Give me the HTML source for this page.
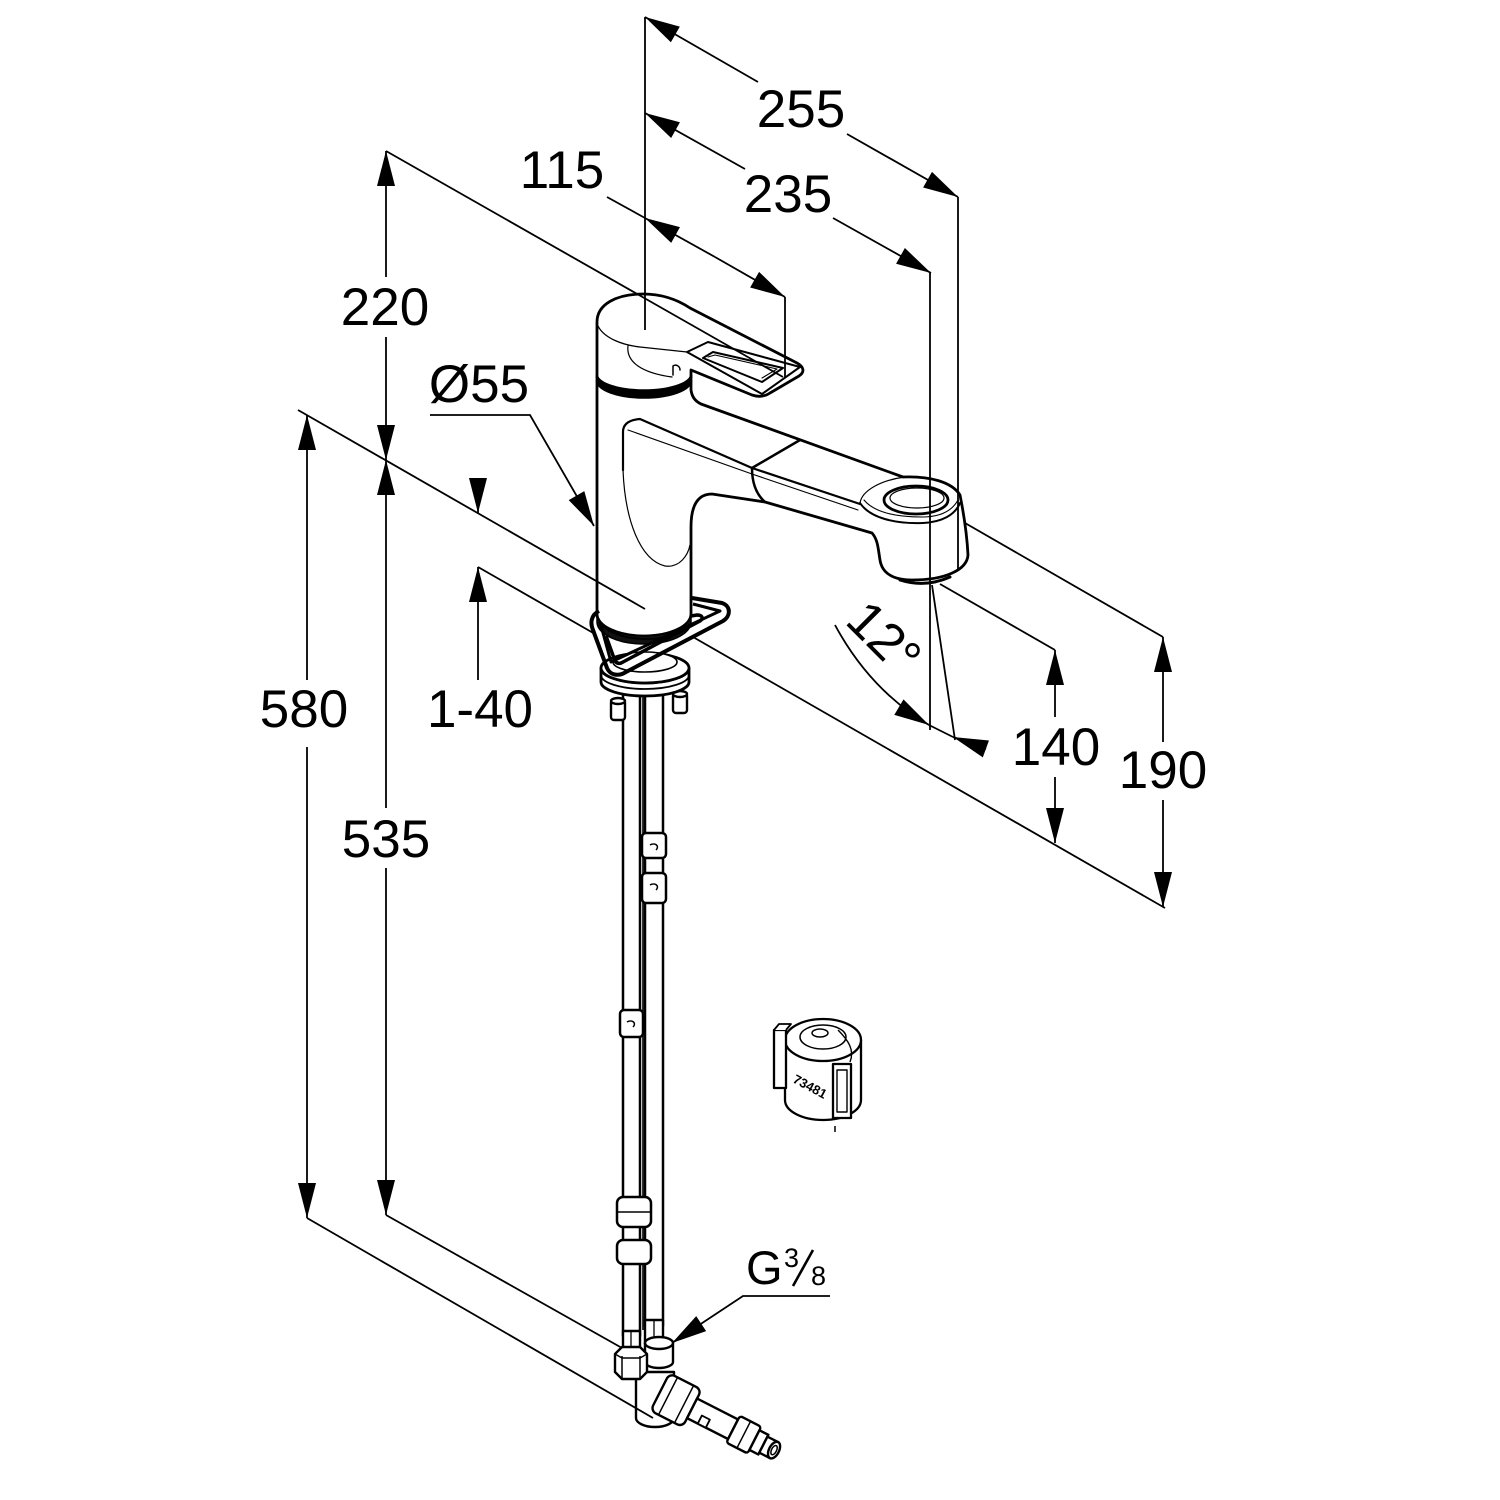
<!DOCTYPE html>
<html><head><meta charset="utf-8">
<style>
html,body{margin:0;padding:0;background:#fff;}
svg{display:block;}
text{font-family:"Liberation Sans",Arial,sans-serif;fill:#000;}
</style></head><body>
<svg width="1500" height="1500" viewBox="0 0 1500 1500" xmlns="http://www.w3.org/2000/svg">
<defs>
<marker id="a" markerUnits="userSpaceOnUse" markerWidth="40" markerHeight="22" viewBox="-37 -11 40 22" refX="0" refY="0" orient="auto" overflow="visible">
<path d="M0,0 L-35,-9 L-35,9 Z" fill="#000"/>
</marker>
</defs>
<rect width="1500" height="1500" fill="#fff"/>

<!-- ================= HOSES ================= -->
<g stroke="#000" stroke-width="2.5" fill="#fff">
<rect x="623" y="685" width="17" height="650"/>
<rect x="645" y="685" width="18" height="640"/>
<line x1="643" y1="690" x2="643" y2="1330" stroke-width="1.6"/>
<!-- clips right hose -->
<rect x="642" y="833" width="24" height="25" rx="4"/>
<rect x="642" y="873" width="24" height="30" rx="4"/>
<path d="M650,845 C655,842 660,846 656,850" fill="none" stroke-width="1.5"/>
<path d="M650,885 C655,882 660,886 656,890" fill="none" stroke-width="1.5"/>
<!-- clip left hose -->
<rect x="620" y="1010" width="23" height="27" rx="4"/>
<path d="M627,1022 C632,1019 637,1023 633,1027" fill="none" stroke-width="1.5"/>
<!-- lower fittings -->
<rect x="617" y="1197" width="34" height="30" rx="6"/>
<rect x="617" y="1240" width="34" height="24" rx="6"/>
<line x1="617" y1="1212" x2="651" y2="1212" stroke-width="1.5"/>
</g>

<!-- ================= BOTTOM CONNECTION ================= -->
<g stroke="#000" stroke-width="2.4" fill="#fff" stroke-linejoin="round">
<!-- ferrules -->
<rect x="623" y="1331" width="17" height="20"/>
<rect x="645" y="1320" width="18" height="24"/>
<line x1="631" y1="1331" x2="631" y2="1351" stroke-width="1.3"/>
<line x1="654" y1="1320" x2="654" y2="1344" stroke-width="1.3"/>
<!-- elbow -->
<path d="M636,1372 L636,1418 A19,9 0 0 0 674,1418 L674,1372 Z"/>
<!-- right nut -->
<path d="M645,1343 A14,6 0 0 1 673,1343 L673,1362 A14,6 0 0 1 645,1362 Z"/>
<path d="M645,1343 A14,6 0 0 0 673,1343" fill="none"/>
<!-- left nut (hex) -->
<path d="M615,1354 L622,1347 L640,1347 L647,1354 L647,1372 L640,1379 L622,1379 L615,1372 Z"/>
<line x1="622" y1="1356" x2="622" y2="1379" stroke-width="1.5"/>
<line x1="640" y1="1356" x2="640" y2="1379" stroke-width="1.5"/>
<path d="M615,1354 L622,1358 L640,1358 L647,1354" fill="none" stroke-width="1.5"/>
<!-- horizontal connection pipe -->
<g transform="translate(660,1392) rotate(27)">
<rect x="0" y="-21" width="36" height="42" rx="6"/>
<line x1="9" y1="-21" x2="9" y2="21" stroke-width="1.5"/>
<line x1="27" y1="-21" x2="27" y2="21" stroke-width="1.5"/>
<rect x="36" y="-11" width="46" height="22"/>
<rect x="48" y="2" width="9" height="9" stroke-width="1.8"/>
<rect x="82" y="-15" width="24" height="30" rx="3"/>
<line x1="94" y1="-15" x2="94" y2="15" stroke-width="1.5"/>
<rect x="106" y="-11" width="10" height="22"/>
<rect x="116" y="-9" width="12" height="18"/>
<ellipse cx="128" cy="0" rx="5" ry="9"/>
<ellipse cx="128" cy="0" rx="2.5" ry="5" stroke-width="1.5"/>
</g>
</g>

<!-- ================= BASE ================= -->
<g stroke="#000" stroke-width="2.4" fill="#fff">
<!-- bolts -->
<rect x="611" y="700" width="14" height="20" rx="3"/>
<ellipse cx="618" cy="701" rx="7" ry="3"/>
<rect x="673" y="693" width="14" height="20" rx="3"/>
<ellipse cx="680" cy="694" rx="7" ry="3"/>
<!-- flange -->
<path d="M601,668 A44,15 0 0 0 689,668 L689,682 A44,14 0 0 1 601,682 Z" stroke-width="2.8"/>
<ellipse cx="645" cy="668" rx="44" ry="15" stroke-width="2.8"/>
<path d="M601,675 A44,14 0 0 0 689,675" fill="none" stroke-width="1.8"/>
<ellipse cx="645" cy="662" rx="32" ry="10" stroke-width="1.6"/>
</g>

<!-- ================= BODY + SPOUT ================= -->
<g stroke="#000" stroke-linejoin="round" stroke-linecap="round">
<path d="M597,614 L597,376 L691,376 L691,390 C692,397 695,401 701,404 L903,477 C930,476 952,482 960,495 C963,510 967,535 968,555 C967,570 945,580 912,580 C893,580 882,573 880,560 C878,548 878,540 872,533 L765,502 L712,494 C698,494 691,505 691,527 L691,614 A47,22 0 0 1 597,614 Z" fill="#fff" stroke-width="2.8"/>
<!-- body bottom dark ring -->
<path d="M597,614 A47,22 0 0 0 691,614 L691,622 A47,22 0 0 1 597,622 Z" fill="#111" stroke-width="1.5"/>
<!-- front top edge of spout -->
<path d="M623,470 L623,432 C623,425 628,420 640,419 L752,468 L860,504" fill="none" stroke-width="2.2"/>
<path d="M628,430 L752,474 L858,510" fill="none" stroke-width="1.1"/>
<!-- teardrop on body -->
<path d="M623,470 C625,520 640,560 665,566 C680,568 688,555 690,545" fill="none" stroke-width="1.2"/>
<!-- seam -->
<path d="M752,468 L800,440" fill="none" stroke-width="2.5"/>
<path d="M752,468 C752,485 757,495 765,502" fill="none" stroke-width="2.5"/>
<!-- head -->
<path d="M860,503 C862,490 882,480 905,477" fill="none" stroke-width="1.2"/>
<path d="M860,503 C870,518 895,524 923,523 C942,522 955,515 960,503" fill="none" stroke-width="2"/>
<path d="M864,500 C874,512 895,517 922,517 C940,517 952,511 958,500" fill="none" stroke-width="1.1"/>
<ellipse cx="916" cy="500" rx="32" ry="14" fill="#fff" stroke-width="2.8"/>
<ellipse cx="917" cy="498" rx="27" ry="10" fill="none" stroke-width="1.2"/>
<path d="M900,580 Q925,588 950,577" fill="none" stroke-width="3"/>
</g>

<!-- ================= TRIANGLE LEVER ================= -->
<g stroke="#000" fill="none" stroke-linejoin="round">
<path d="M599,611 C591,615 590,623 593,630 L607,668 C610,675 618,677 626,672 L723,621 C731,616 731,606 722,603 L692,598" stroke-width="4"/>
<path d="M600,622 L611,662 L720,611 L693,604" stroke-width="3"/>
<path d="M606,636 L615,661 C617,664 620,664 623,662 L700,621 C704,618 702,615 697,615 L691,616" stroke-width="3.5"/>
<path d="M600,621 A47,22 0 0 0 690,625" stroke-width="2"/>
</g>

<!-- ================= CAP + LEVER ================= -->
<g stroke="#000" stroke-linejoin="round" stroke-linecap="round">
<path d="M597,376 L597,322 C597,304 617,294 643,294 C663,294 678,300 690,308 L797,363 C804,367 805,372 799,376 L770,393 C764,397 758,397 752,395 L691,370 L691,376 A47,16 0 0 1 597,376 Z" fill="#fff" stroke-width="2.8"/>
<path d="M597,374 A47,16 0 0 0 691,374 L691,381 A47,17 0 0 1 597,381 Z" fill="#000" stroke-width="1.5"/>
<!-- cap rim / arm lower edge -->
<path d="M598,326 C604,338 622,345 640,347 L687,352" fill="none" stroke-width="1.3"/>
<path d="M628,346 C626,362 642,373 672,377" fill="none" stroke-width="1.2"/>
<path d="M673,375 L673,366 C676,364 680,366 680,370" fill="none" stroke-width="1.5"/>
<!-- lever frame -->
<path d="M687,352 L708,342 L800,367 L762,394 Z" fill="#fff" stroke-width="2"/>
<path d="M703,358 L713,352 L783,368 L762,382 Z" fill="#fff" stroke-width="2"/>
<path d="M708,357 L715,355 L777,369 L762,378" fill="none" stroke-width="1.1"/>
</g>

<!-- ================= CARTRIDGE ================= -->
<g stroke="#000" stroke-width="2.3" fill="#fff" stroke-linejoin="round">
<path d="M785,1040 L785,1100 A38,20 0 0 0 861,1100 L861,1040 Z"/>
<ellipse cx="823" cy="1040" rx="38" ry="21"/>
<ellipse cx="823" cy="1037" rx="23" ry="12" stroke-width="1.5"/>
<ellipse cx="820" cy="1033" rx="8" ry="4" stroke-width="1.5"/>
<path d="M838,1030 C848,1040 855,1050 850,1062" fill="none" stroke-width="1.4"/>
<rect x="774" y="1030" width="12" height="58"/>
<path d="M774,1030 L779,1024 L791,1024 L786,1030" stroke-width="1.8"/>
<rect x="833" y="1064" width="18" height="54"/>
<rect x="837" y="1070" width="10" height="42" stroke-width="1.4"/>
<line x1="835" y1="1126" x2="835" y2="1132" stroke-width="1.5"/>
</g>
<text x="0" y="0" font-size="13" font-weight="bold" transform="translate(792,1082) rotate(28)">73481</text>

<!-- ================= DIMENSION LINES ================= -->
<g stroke="#000" stroke-width="1.8" fill="none">
<!-- 255 -->
<line x1="758" y1="82" x2="645" y2="17" marker-end="url(#a)"/>
<line x1="847" y1="134" x2="958" y2="197" marker-end="url(#a)"/>
<!-- 235 -->
<line x1="745" y1="169" x2="645" y2="113" marker-end="url(#a)"/>
<line x1="833" y1="218" x2="931" y2="273" marker-end="url(#a)"/>
<!-- 115 -->
<line x1="607" y1="197" x2="645" y2="218"/>
<line x1="715" y1="257" x2="645" y2="218" marker-end="url(#a)"/>
<line x1="715" y1="257" x2="785" y2="297" marker-end="url(#a)"/>
<!-- 220 -->
<line x1="386" y1="277" x2="386" y2="151" marker-end="url(#a)"/>
<line x1="386" y1="337" x2="386" y2="460" marker-end="url(#a)"/>
<!-- 535 -->
<line x1="386" y1="808" x2="386" y2="460" marker-end="url(#a)"/>
<line x1="386" y1="868" x2="386" y2="1215" marker-end="url(#a)"/>
<!-- 580 -->
<line x1="307" y1="680" x2="307" y2="415" marker-end="url(#a)"/>
<line x1="307" y1="747" x2="307" y2="1218" marker-end="url(#a)"/>
<!-- 1-40 -->
<line x1="478" y1="478" x2="478" y2="513" marker-end="url(#a)"/>
<line x1="478" y1="680" x2="478" y2="567" marker-end="url(#a)"/>
<!-- 140 -->
<line x1="1055" y1="717" x2="1055" y2="650" marker-end="url(#a)"/>
<line x1="1055" y1="777" x2="1055" y2="843" marker-end="url(#a)"/>
<!-- 190 -->
<line x1="1163" y1="742" x2="1163" y2="637" marker-end="url(#a)"/>
<line x1="1163" y1="800" x2="1163" y2="907" marker-end="url(#a)"/>
<!-- 12 deg -->
<path d="M835,625 Q870,690 929,725" marker-end="url(#a)"/>
<line x1="929" y1="725" x2="953" y2="737"/>
<line x1="986" y1="749" x2="953" y2="737" marker-end="url(#a)"/>
<line x1="932" y1="585" x2="955" y2="740"/>
<!-- extension lines -->
<line x1="645" y1="17" x2="645" y2="330"/>
<line x1="958" y1="197" x2="958" y2="570"/>
<line x1="930" y1="273" x2="930" y2="730"/>
<line x1="785" y1="297" x2="785" y2="378"/>
<line x1="386" y1="151" x2="783" y2="377"/>
<line x1="298" y1="410" x2="645" y2="609"/>
<line x1="693" y1="637" x2="1165" y2="908"/>
<line x1="478" y1="567" x2="595" y2="634"/>
<line x1="940" y1="584" x2="1055" y2="650"/>
<line x1="965" y1="523" x2="1163" y2="637"/>
<line x1="386" y1="1215" x2="622" y2="1348"/>
<line x1="307" y1="1218" x2="653" y2="1418"/>
<!-- Ø55 leader -->
<polyline points="430,415 530,415 594,526" marker-end="url(#a)"/>
<!-- G3/8 leader -->
<polyline points="830,1296 743,1296 672,1343" marker-end="url(#a)"/>
</g>

<!-- ================= TEXT ================= -->
<g font-size="53" text-anchor="middle">
<text x="801" y="127">255</text>
<text x="788" y="212">235</text>
<text x="562" y="188">115</text>
<text x="385" y="325">220</text>
<text x="479" y="402">Ø55</text>
<text x="304" y="727">580</text>
<text x="480" y="727">1-40</text>
<text x="386" y="857">535</text>
<text x="1056" y="765">140</text>
<text x="1163" y="788">190</text>
<text x="0" y="19" font-size="52" transform="translate(885,637) rotate(45)">12°</text>
</g>
<text x="746" y="1284" font-size="47">G</text>
<text x="784" y="1267" font-size="27">3</text>
<line x1="793" y1="1286" x2="813" y2="1250" stroke="#000" stroke-width="2.6"/>
<text x="811" y="1285" font-size="27">8</text>
</svg>
</body></html>
